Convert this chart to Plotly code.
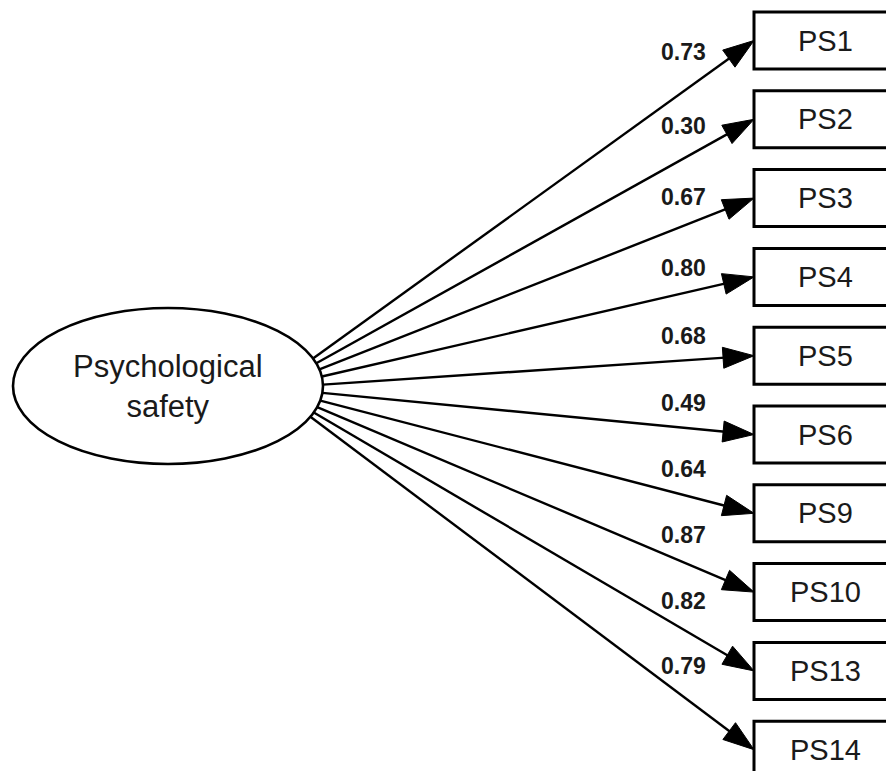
import math
import plotly.graph_objects as go

# ---- data ----
latent = "Psychological<br>safety"
indicators = ["PS1", "PS2", "PS3", "PS4", "PS5", "PS6", "PS9", "PS10", "PS13", "PS14"]
loadings = [0.73, 0.30, 0.67, 0.80, 0.68, 0.49, 0.64, 0.87, 0.82, 0.79]

# ---- layout geometry (pixel space) ----
W, H = 886, 771
ell_x0, ell_x1, ell_y0, ell_y1 = 13, 323, 308, 464
ecx, ecy = (ell_x0 + ell_x1) / 2, (ell_y0 + ell_y1) / 2
ea, eb = (ell_x1 - ell_x0) / 2, (ell_y1 - ell_y0) / 2
hub = (272, 388)
box_left, box_right = 754, 896
box_top0, box_step, box_h = 12, 78.8, 57
head_len, head_half = 31, 10.5
label_x = 683

fig = go.Figure()
shapes, annotations = [], []

shapes.append(dict(type="circle", xref="x", yref="y", x0=ell_x0, x1=ell_x1,
                   y0=ell_y0, y1=ell_y1, line=dict(color="black", width=2.6),
                   fillcolor="white", layer="above"))
annotations.append(dict(x=ecx, y=ecy, xref="x", yref="y", text=latent, showarrow=False,
                        font=dict(family="Liberation Sans, Arial", size=31, color="#1a1a1a"),
                        align="center"))


def ellipse_exit(px, py, dx, dy):
    # solve ((px+t dx - ecx)/ea)^2 + ((py+t dy - ecy)/eb)^2 = 1 for t>0
    ux, uy = (px - ecx) / ea, (py - ecy) / eb
    vx, vy = dx / ea, dy / eb
    A = vx * vx + vy * vy
    B = 2 * (ux * vx + uy * vy)
    C = ux * ux + uy * uy - 1
    t = (-B + math.sqrt(B * B - 4 * A * C)) / (2 * A)
    return px + t * dx, py + t * dy


for i, (name, val) in enumerate(zip(indicators, loadings)):
    top = box_top0 + i * box_step
    cy = top + box_h / 2
    shapes.append(dict(type="rect", xref="x", yref="y", x0=box_left, x1=box_right,
                       y0=top, y1=top + box_h, line=dict(color="black", width=3),
                       fillcolor="white"))
    annotations.append(dict(x=(box_left + box_right) / 2, y=cy, xref="x", yref="y",
                            text=name, showarrow=False,
                            font=dict(family="Liberation Sans, Arial", size=29, color="#1a1a1a")))
    tipx, tipy = box_left, cy
    dx, dy = tipx - hub[0], tipy - hub[1]
    L = math.hypot(dx, dy)
    ux, uy = dx / L, dy / L
    sx, sy = ellipse_exit(hub[0], hub[1], dx, dy)
    bx, by = tipx - ux * head_len, tipy - uy * head_len
    shapes.append(dict(type="line", xref="x", yref="y", x0=sx, y0=sy, x1=bx + ux * 2, y1=by + uy * 2,
                       line=dict(color="black", width=2.4)))
    nx, ny = -uy, ux
    path = (f"M {tipx} {tipy} L {bx + nx * head_half} {by + ny * head_half} "
            f"L {bx - nx * head_half} {by - ny * head_half} Z")
    shapes.append(dict(type="path", xref="x", yref="y", path=path,
                       fillcolor="black", line=dict(color="black", width=1)))
    s = dy / dx
    line_y = hub[1] + s * (label_x - hub[0])
    off = 24 + (30 * s * s if s < 0 else 8 * s)
    annotations.append(dict(x=label_x, y=line_y - off, xref="x", yref="y",
                            text=f"<b>{val:.2f}</b>", showarrow=False,
                            font=dict(family="Liberation Sans, Arial", size=23, color="#1a1a1a")))

fig.update_layout(
    width=W, height=H,
    margin=dict(l=0, r=0, t=0, b=0),
    paper_bgcolor="white", plot_bgcolor="white",
    xaxis=dict(range=[0, W], visible=False, fixedrange=True),
    yaxis=dict(range=[H, 0], visible=False, fixedrange=True),
    shapes=shapes, annotations=annotations, showlegend=False,
)
fig.write_html("out.html", config={"displayModeBar": False},
               post_script="document.body.style.margin='0';document.body.style.overflow='hidden';")
